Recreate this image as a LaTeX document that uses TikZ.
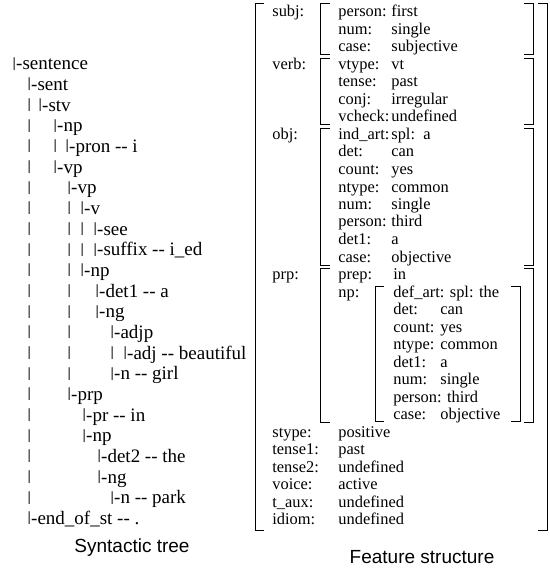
\documentclass[tikz,border=0pt]{standalone}
\usepackage{fontspec}
\setmainfont{Liberation Serif}
\newfontfamily\capfamily{Liberation Sans}
\newcommand{\tbar}{\scalebox{1}[0.74]{\raisebox{0.2em}{|}}}
\tikzset{
	tree/.style={anchor=base west, inner sep=0pt, font=\fontsize{9.5}{11}\selectfont},
	feat/.style={anchor=base west, inner sep=0pt, font=\fontsize{8.2}{10}\selectfont},
	caption/.style={font=\capfamily\fontsize{9.5}{11}\selectfont},
	brk/.style={line width=0.5pt}
}

\begin{document}
\begin{tikzpicture}[x=0.5pt, y=-0.5pt]
        \useasboundingbox (0,0) rectangle (550,572);

        % syntactic tree
        \node[tree] (t0) at (12, 70) {\tbar-sentence};
        \node[tree] (t1) at (27, 90.7) {\tbar-sent};
        \node[tree] (t2a) at (27, 111.3) {\tbar};
        \node[tree] (t2) at (38, 111.3) {\tbar-stv};
        \node[tree] (t3a) at (27, 132) {\tbar};
        \node[tree] (t3) at (53, 132) {\tbar-np};
        \node[tree] (t4a) at (27, 152.6) {\tbar};
        \node[tree] (t4b) at (53, 152.6) {\tbar};
        \node[tree] (t4) at (65, 152.6) {\tbar-pron -{}- i};
        \node[tree] (t5a) at (27, 173.3) {\tbar};
        \node[tree] (t5) at (53, 173.3) {\tbar-vp};
        \node[tree] (t6a) at (27, 194) {\tbar};
        \node[tree] (t6) at (67, 194) {\tbar-vp};
        \node[tree] (t7a) at (27, 214.6) {\tbar};
        \node[tree] (t7b) at (67, 214.6) {\tbar};
        \node[tree] (t7) at (80, 214.6) {\tbar-v};
        \node[tree] (t8a) at (27, 235.3) {\tbar};
        \node[tree] (t8b) at (67, 235.3) {\tbar};
        \node[tree] (t8c) at (80, 235.3) {\tbar};
        \node[tree] (t8) at (93, 235.3) {\tbar-see};
        \node[tree] (t9a) at (27, 255.9) {\tbar};
        \node[tree] (t9b) at (67, 255.9) {\tbar};
        \node[tree] (t9c) at (80, 255.9) {\tbar};
        \node[tree] (t9) at (93, 255.9) {\tbar-suffix -{}- i\_ed};
        \node[tree] (t10a) at (27, 276.6) {\tbar};
        \node[tree] (t10b) at (67, 276.6) {\tbar};
        \node[tree] (t10) at (80, 276.6) {\tbar-np};
        \node[tree] (t11a) at (27, 297.3) {\tbar};
        \node[tree] (t11b) at (67, 297.3) {\tbar};
        \node[tree] (t11) at (95, 297.3) {\tbar-det1 -{}- a};
        \node[tree] (t12a) at (27, 317.9) {\tbar};
        \node[tree] (t12b) at (67, 317.9) {\tbar};
        \node[tree] (t12) at (95, 317.9) {\tbar-ng};
        \node[tree] (t13a) at (27, 338.6) {\tbar};
        \node[tree] (t13b) at (67, 338.6) {\tbar};
        \node[tree] (t13) at (110, 338.6) {\tbar-adjp};
        \node[tree] (t14a) at (27, 359.2) {\tbar};
        \node[tree] (t14b) at (67, 359.2) {\tbar};
        \node[tree] (t14c) at (110, 359.2) {\tbar};
        \node[tree] (t14) at (123, 359.2) {\tbar-adj -{}- beautiful};
        \node[tree] (t15a) at (27, 379.9) {\tbar};
        \node[tree] (t15b) at (67, 379.9) {\tbar};
        \node[tree] (t15) at (110, 379.9) {\tbar-n -{}- girl};
        \node[tree] (t16a) at (27, 400.6) {\tbar};
        \node[tree] (t16) at (67, 400.6) {\tbar-prp};
        \node[tree] (t17a) at (27, 421.2) {\tbar};
        \node[tree] (t17) at (82, 421.2) {\tbar-pr -{}- in};
        \node[tree] (t18a) at (27, 441.9) {\tbar};
        \node[tree] (t18) at (82, 441.9) {\tbar-np};
        \node[tree] (t19a) at (27, 462.5) {\tbar};
        \node[tree] (t19) at (97, 462.5) {\tbar-det2 -{}- the};
        \node[tree] (t20a) at (27, 483.2) {\tbar};
        \node[tree] (t20) at (97, 483.2) {\tbar-ng};
        \node[tree] (t21a) at (27, 503.9) {\tbar};
        \node[tree] (t21) at (110, 503.9) {\tbar-n -{}- park};
        \node[tree] (t22) at (27, 524.5) {\tbar-end\_of\_st -{}- .};

        % feature structure
        \node[feat] (subj) at (272, 17) {subj:};
        \node[feat] (f0) at (338, 17) {person:};
        \node[feat] (v0) at (391, 17) {first};
        \node[feat] (f1) at (338, 34.5) {num:};
        \node[feat] (v1) at (391, 34.5) {single};
        \node[feat] (f2) at (338, 52) {case:};
        \node[feat] (v2) at (391, 52) {subjective};

        \node[feat] (verb) at (272, 69.5) {verb:};
        \node[feat] (f3) at (338, 69.5) {vtype:};
        \node[feat] (v3) at (391, 69.5) {vt};
        \node[feat] (f4) at (338, 87) {tense:};
        \node[feat] (v4) at (391, 87) {past};
        \node[feat] (f5) at (338, 104.5) {conj:};
        \node[feat] (v5) at (391, 104.5) {irregular};
        \node[feat] (f6) at (338, 122) {vcheck:};
        \node[feat] (v6) at (391, 122) {undefined};

        \node[feat] (obj) at (272, 139.5) {obj:};
        \node[feat] (f7) at (338, 139.5) {ind\_art:};
        \node[feat] (v7) at (391, 139.5) {spl:\enspace a};
        \node[feat] (f8) at (338, 157) {det:};
        \node[feat] (v8) at (391, 157) {can};
        \node[feat] (f9) at (338, 174.5) {count:};
        \node[feat] (v9) at (391, 174.5) {yes};
        \node[feat] (f10) at (338, 192) {ntype:};
        \node[feat] (v10) at (391, 192) {common};
        \node[feat] (f11) at (338, 209.5) {num:};
        \node[feat] (v11) at (391, 209.5) {single};
        \node[feat] (f12) at (338, 227) {person:};
        \node[feat] (v12) at (391, 227) {third};
        \node[feat] (f13) at (338, 244.5) {det1:};
        \node[feat] (v13) at (391, 244.5) {a};
        \node[feat] (f14) at (338, 262) {case:};
        \node[feat] (v14) at (391, 262) {objective};

        \node[feat] (prp) at (272, 279.5) {prp:};
        \node[feat] (f15) at (338, 279.5) {prep:};
        \node[feat] (v15) at (393, 279.5) {in};
        \node[feat] (np) at (338, 297) {np:};
        \node[feat] (g16) at (393, 297) {def\_art: spl: the};
        \node[feat] (g17) at (393, 314.5) {det:};
        \node[feat] (w17) at (440, 314.5) {can};
        \node[feat] (g18) at (393, 332) {count:};
        \node[feat] (w18) at (440, 332) {yes};
        \node[feat] (g19) at (393, 349.5) {ntype:};
        \node[feat] (w19) at (440, 349.5) {common};
        \node[feat] (g20) at (393, 367) {det1:};
        \node[feat] (w20) at (440, 367) {a};
        \node[feat] (g21) at (393, 384.5) {num:};
        \node[feat] (w21) at (440, 384.5) {single};
        \node[feat] (g22) at (393, 402) {person: third};
        \node[feat] (g23) at (393, 419.5) {case:};
        \node[feat] (w23) at (440, 419.5) {objective};

        \node[feat] (stype) at (272, 437) {stype:};
        \node[feat] (u24) at (338, 437) {positive};
        \node[feat] (tense1) at (272, 454.5) {tense1:};
        \node[feat] (u25) at (338, 454.5) {past};
        \node[feat] (tense2) at (272, 472) {tense2:};
        \node[feat] (u26) at (338, 472) {undefined};
        \node[feat] (voice) at (272, 489.5) {voice:};
        \node[feat] (u27) at (338, 489.5) {active};
        \node[feat] (taux) at (272, 507) {t\_aux:};
        \node[feat] (u28) at (338, 507) {undefined};
        \node[feat] (idiom) at (272, 524.5) {idiom:};
        \node[feat] (u29) at (338, 524.5) {undefined};

        % brackets
        \draw[brk] (264,4) -- (255,4) -- (255,530) -- (264,530);
        \draw[brk] (538,4) -- (547,4) -- (547,530) -- (538,530);
        \draw[brk] (330,4) -- (320,4) -- (320,55) -- (330,55);
        \draw[brk] (524,4) -- (533,4) -- (533,55) -- (524,55);
        \draw[brk] (330,58.5) -- (320,58.5) -- (320,125) -- (330,125);
        \draw[brk] (524,58.5) -- (533,58.5) -- (533,125) -- (524,125);
        \draw[brk] (330,128.5) -- (320,128.5) -- (320,265) -- (330,265);
        \draw[brk] (524,128.5) -- (533,128.5) -- (533,265) -- (524,265);
        \draw[brk] (330,268.5) -- (320,268.5) -- (320,422.5) -- (330,422.5);
        \draw[brk] (524,268.5) -- (533,268.5) -- (533,422.5) -- (524,422.5);
        \draw[brk] (384,286) -- (375,286) -- (375,421) -- (384,421);
        \draw[brk] (511,286) -- (520,286) -- (520,421) -- (511,421);

        \node[caption] (treecap) at (132, 548) {Syntactic tree};
        \node[caption] (featcap) at (422, 557) {Feature structure};
\end{tikzpicture}
\end{document}
